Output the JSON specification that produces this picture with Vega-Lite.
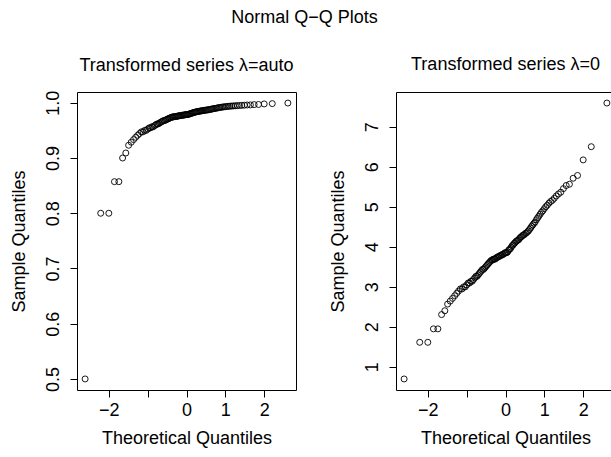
{
  "$schema": "https://vega.github.io/schema/vega-lite/v6.json",
  "background": "white",
  "padding": {"left": 9, "top": 8, "right": 0, "bottom": 0},
  "spacing": 31,
  "title": {"text": "Normal Q−Q Plots", "anchor": "middle", "fontSize": 18, "fontWeight": "normal", "color": "black", "font": "Liberation Sans", "offset": 29, "dx": -8},
  "config": {
    "font": "Liberation Sans",
    "view": {"stroke": "black", "strokeWidth": 1},
    "axis": {"grid": false, "domain": false, "tickColor": "black", "tickSize": 7, "tickWidth": 1, "labelColor": "black", "titleColor": "black", "labelFontSize": 18, "titleFontSize": 18, "titleFontWeight": "normal", "labelFont": "Liberation Sans", "titleFont": "Liberation Sans", "labelOverlap": false, "labelFlush": false},
    "title": {"fontSize": 18, "fontWeight": "normal", "color": "black", "font": "Liberation Sans"}
  },
  "datasets": {
    "qq": [
      {"q": -2.61, "auto": 0.5, "log": 0.6931},
      {"q": -2.208, "auto": 0.8, "log": 1.6094},
      {"q": -2.0, "auto": 0.8, "log": 1.6094},
      {"q": -1.855, "auto": 0.85714, "log": 1.9459},
      {"q": -1.741, "auto": 0.85714, "log": 1.9459},
      {"q": -1.645, "auto": 0.9, "log": 2.3026},
      {"q": -1.562, "auto": 0.90909, "log": 2.3979},
      {"q": -1.49, "auto": 0.92308, "log": 2.5649},
      {"q": -1.423, "auto": 0.92857, "log": 2.6391},
      {"q": -1.363, "auto": 0.93333, "log": 2.7081},
      {"q": -1.308, "auto": 0.9375, "log": 2.7726},
      {"q": -1.256, "auto": 0.94118, "log": 2.8332},
      {"q": -1.208, "auto": 0.94444, "log": 2.8904},
      {"q": -1.162, "auto": 0.94737, "log": 2.9444},
      {"q": -1.118, "auto": 0.94737, "log": 2.9444},
      {"q": -1.076, "auto": 0.95, "log": 2.9957},
      {"q": -1.036, "auto": 0.95, "log": 2.9957},
      {"q": -0.998, "auto": 0.95238, "log": 3.0445},
      {"q": -0.961, "auto": 0.95455, "log": 3.091},
      {"q": -0.926, "auto": 0.95455, "log": 3.091},
      {"q": -0.892, "auto": 0.95652, "log": 3.1355},
      {"q": -0.858, "auto": 0.95652, "log": 3.1355},
      {"q": -0.826, "auto": 0.95833, "log": 3.1781},
      {"q": -0.794, "auto": 0.96, "log": 3.2189},
      {"q": -0.763, "auto": 0.96154, "log": 3.2581},
      {"q": -0.733, "auto": 0.96154, "log": 3.2581},
      {"q": -0.703, "auto": 0.96296, "log": 3.2958},
      {"q": -0.674, "auto": 0.96429, "log": 3.3322},
      {"q": -0.646, "auto": 0.96552, "log": 3.3673},
      {"q": -0.618, "auto": 0.96667, "log": 3.4012},
      {"q": -0.59, "auto": 0.96774, "log": 3.434},
      {"q": -0.564, "auto": 0.96774, "log": 3.434},
      {"q": -0.537, "auto": 0.96875, "log": 3.4657},
      {"q": -0.511, "auto": 0.9697, "log": 3.4965},
      {"q": -0.486, "auto": 0.97059, "log": 3.5264},
      {"q": -0.46, "auto": 0.97143, "log": 3.5553},
      {"q": -0.435, "auto": 0.97222, "log": 3.5835},
      {"q": -0.411, "auto": 0.97297, "log": 3.6109},
      {"q": -0.385, "auto": 0.97368, "log": 3.6376},
      {"q": -0.361, "auto": 0.97436, "log": 3.6636},
      {"q": -0.337, "auto": 0.97436, "log": 3.6636},
      {"q": -0.313, "auto": 0.975, "log": 3.6889},
      {"q": -0.289, "auto": 0.975, "log": 3.6889},
      {"q": -0.266, "auto": 0.975, "log": 3.6889},
      {"q": -0.242, "auto": 0.97561, "log": 3.7136},
      {"q": -0.219, "auto": 0.97619, "log": 3.7377},
      {"q": -0.196, "auto": 0.97619, "log": 3.7377},
      {"q": -0.172, "auto": 0.97674, "log": 3.7612},
      {"q": -0.149, "auto": 0.97674, "log": 3.7612},
      {"q": -0.126, "auto": 0.97727, "log": 3.7842},
      {"q": -0.103, "auto": 0.97727, "log": 3.7842},
      {"q": -0.08, "auto": 0.97778, "log": 3.8067},
      {"q": -0.057, "auto": 0.97778, "log": 3.8067},
      {"q": -0.034, "auto": 0.97826, "log": 3.8286},
      {"q": -0.011, "auto": 0.97872, "log": 3.8501},
      {"q": 0.011, "auto": 0.97872, "log": 3.8501},
      {"q": 0.034, "auto": 0.97872, "log": 3.8501},
      {"q": 0.057, "auto": 0.97917, "log": 3.8712},
      {"q": 0.08, "auto": 0.98, "log": 3.912},
      {"q": 0.103, "auto": 0.98039, "log": 3.9318},
      {"q": 0.126, "auto": 0.98077, "log": 3.9512},
      {"q": 0.149, "auto": 0.98148, "log": 3.989},
      {"q": 0.172, "auto": 0.98214, "log": 4.0254},
      {"q": 0.196, "auto": 0.98246, "log": 4.0431},
      {"q": 0.219, "auto": 0.98305, "log": 4.0775},
      {"q": 0.242, "auto": 0.98333, "log": 4.0943},
      {"q": 0.266, "auto": 0.98387, "log": 4.1271},
      {"q": 0.289, "auto": 0.98413, "log": 4.1431},
      {"q": 0.313, "auto": 0.98438, "log": 4.1589},
      {"q": 0.337, "auto": 0.98462, "log": 4.1744},
      {"q": 0.361, "auto": 0.98507, "log": 4.2047},
      {"q": 0.385, "auto": 0.98551, "log": 4.2341},
      {"q": 0.411, "auto": 0.98571, "log": 4.2485},
      {"q": 0.435, "auto": 0.98611, "log": 4.2767},
      {"q": 0.46, "auto": 0.9863, "log": 4.2905},
      {"q": 0.486, "auto": 0.98649, "log": 4.3041},
      {"q": 0.511, "auto": 0.98684, "log": 4.3307},
      {"q": 0.537, "auto": 0.98701, "log": 4.3438},
      {"q": 0.564, "auto": 0.98734, "log": 4.3694},
      {"q": 0.59, "auto": 0.98765, "log": 4.3944},
      {"q": 0.618, "auto": 0.9881, "log": 4.4308},
      {"q": 0.646, "auto": 0.98851, "log": 4.4659},
      {"q": 0.674, "auto": 0.98901, "log": 4.5109},
      {"q": 0.703, "auto": 0.98936, "log": 4.5433},
      {"q": 0.733, "auto": 0.9898, "log": 4.585},
      {"q": 0.763, "auto": 0.9901, "log": 4.6151},
      {"q": 0.794, "auto": 0.99065, "log": 4.6728},
      {"q": 0.826, "auto": 0.99107, "log": 4.7185},
      {"q": 0.858, "auto": 0.99145, "log": 4.7622},
      {"q": 0.892, "auto": 0.99187, "log": 4.8122},
      {"q": 0.926, "auto": 0.99225, "log": 4.8598},
      {"q": 0.961, "auto": 0.99254, "log": 4.8978},
      {"q": 0.998, "auto": 0.99291, "log": 4.9488},
      {"q": 1.036, "auto": 0.99324, "log": 4.9972},
      {"q": 1.076, "auto": 0.99351, "log": 5.037},
      {"q": 1.118, "auto": 0.99383, "log": 5.0876},
      {"q": 1.162, "auto": 0.99408, "log": 5.1299},
      {"q": 1.208, "auto": 0.99425, "log": 5.1591},
      {"q": 1.256, "auto": 0.99454, "log": 5.2095},
      {"q": 1.308, "auto": 0.99485, "log": 5.2679},
      {"q": 1.363, "auto": 0.9951, "log": 5.3181},
      {"q": 1.423, "auto": 0.99531, "log": 5.3613},
      {"q": 1.49, "auto": 0.99571, "log": 5.451},
      {"q": 1.562, "auto": 0.99603, "log": 5.5294},
      {"q": 1.645, "auto": 0.99615, "log": 5.5607},
      {"q": 1.741, "auto": 0.99669, "log": 5.7104},
      {"q": 1.855, "auto": 0.99691, "log": 5.7807},
      {"q": 2.0, "auto": 0.99791, "log": 6.1696},
      {"q": 2.208, "auto": 0.9985, "log": 6.4998},
      {"q": 2.61, "auto": 0.9995, "log": 7.5909}
    ]
  },
  "hconcat": [
    {
      "width": 219,
      "height": 298,
      "title": {"text": "Transformed series λ=auto", "offset": 15},
      "data": {"name": "qq"},
      "mark": {"type": "point", "shape": "circle", "filled": false, "stroke": "black", "strokeWidth": 0.9, "size": 36, "opacity": 1},
      "encoding": {
        "x": {"field": "q", "type": "quantitative", "title": "Theoretical Quantiles",
              "scale": {"domain": [-2.819, 2.819], "nice": false, "zero": false},
              "axis": {"values": [-2, -1, 0, 1, 2], "labelExpr": "datum.value == -1 ? '' : datum.label", "labelPadding": 4, "titlePadding": 10}},
        "y": {"field": "auto", "type": "quantitative", "title": "Sample Quantiles",
              "scale": {"domain": [0.48, 1.0195], "nice": false, "zero": false},
              "axis": {"values": [0.5, 0.6, 0.7, 0.8, 0.9, 1.0], "format": ".1f", "labelAngle": 270, "labelPadding": 8, "titlePadding": 16}}
      }
    },
    {
      "width": 219,
      "height": 298,
      "title": {"text": "Transformed series λ=0", "offset": 18},
      "data": {"name": "qq"},
      "mark": {"type": "point", "shape": "circle", "filled": false, "stroke": "black", "strokeWidth": 0.9, "size": 36, "opacity": 1},
      "encoding": {
        "x": {"field": "q", "type": "quantitative", "title": "Theoretical Quantiles",
              "scale": {"domain": [-2.819, 2.819], "nice": false, "zero": false},
              "axis": {"values": [-2, -1, 0, 1, 2], "labelExpr": "datum.value == -1 ? '' : datum.label", "labelPadding": 4, "titlePadding": 10}},
        "y": {"field": "log", "type": "quantitative", "title": "Sample Quantiles",
              "scale": {"domain": [0.417, 7.867], "nice": false, "zero": false},
              "axis": {"values": [1, 2, 3, 4, 5, 6, 7], "format": "d", "labelAngle": 270, "labelPadding": 8, "titlePadding": 16}}
      }
    }
  ]
}
